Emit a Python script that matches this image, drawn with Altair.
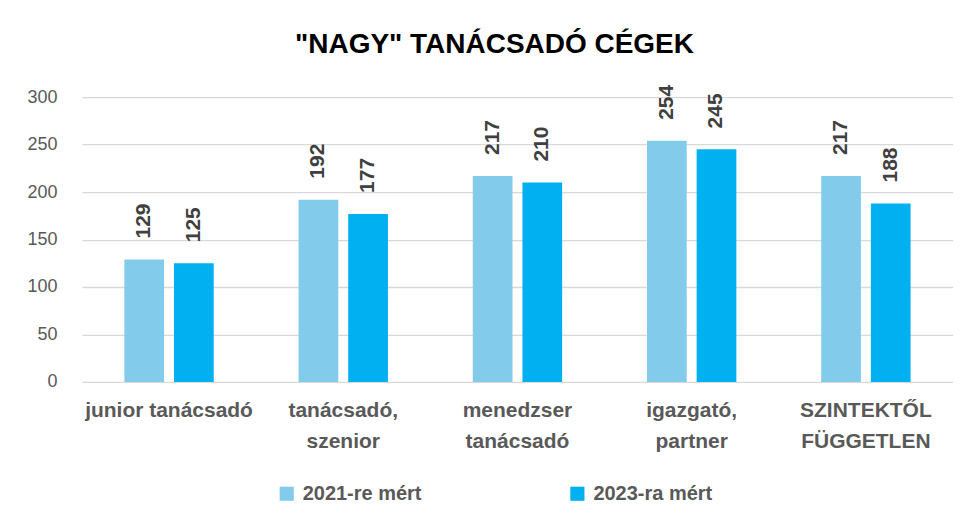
import altair as alt
import pandas as pd

categories = ["junior tanácsadó", "tanácsadó,\nszenior", "menedzser\ntanácsadó", "igazgató,\npartner", "SZINTEKTŐL\nFÜGGETLEN"]
series = ["2021-re mért", "2023-ra mért"]
values_2021 = [129, 192, 217, 254, 217]
values_2023 = [125, 177, 210, 245, 188]
colors = ["#83CBEB", "#00B0F0"]

rows = []
for c, a, b in zip(categories, values_2021, values_2023):
    rows.append({"cat": c, "series": series[0], "value": a})
    rows.append({"cat": c, "series": series[1], "value": b})
df = pd.DataFrame(rows)

FONT = "Liberation Sans"

x = alt.X("cat:N", sort=categories, title=None,
          scale=alt.Scale(paddingInner=0.487, paddingOuter=0.2435),
          axis=alt.Axis(labelAngle=0, labelExpr="split(datum.value, '\\n')",
                        labelFont=FONT, labelFontSize=21, labelFontWeight="bold",
                        labelColor="#595959", labelLineHeight=31, labelPadding=18,
                        domain=False, ticks=False, labelBaseline="top"))
xo = alt.XOffset("series:N", sort=series, scale=alt.Scale(paddingInner=0.2, paddingOuter=0))
y = alt.Y("value:Q", title=None,
          scale=alt.Scale(domain=[0, 300]),
          axis=alt.Axis(values=[0, 50, 100, 150, 200, 250, 300], labelFont=FONT,
                        labelFontSize=18, labelColor="#595959", labelPadding=25,
                        domain=False, ticks=False, gridColor="#D9D9D9", gridWidth=1.3))
color = alt.Color("series:N", sort=series,
                  scale=alt.Scale(domain=series, range=colors),
                  legend=alt.Legend(title=None, orient="none", direction="horizontal",
                                    legendX=195, legendY=387, symbolType="square",
                                    symbolSize=200, symbolStrokeWidth=0, labelFont=FONT,
                                    labelFontSize=20, labelFontWeight="bold",
                                    labelColor="#595959", columnPadding=146,
                                    labelOffset=6))

base = alt.Chart(df)
bars = base.mark_bar().encode(x=x, xOffset=xo, y=y, color=color)
labels = base.mark_text(angle=270, align="left", baseline="middle", dx=21,
                        font=FONT, fontSize=21, fontWeight="bold", color="#404040").encode(
    x=x, xOffset=xo, y=y, text="value:Q")

chart = alt.layer(bars, labels).properties(
    width=872, height=285,
    title=alt.TitleParams('"NAGY" TANÁCSADÓ CÉGEK', font=FONT, fontSize=28,
                          fontWeight="bold", color="#000000", anchor="middle",
                          offset=26, dx=-23),
    autosize=alt.AutoSizeParams(type="none"),
    padding={"left": 74, "top": 89, "right": 0, "bottom": 140},
).configure_view(stroke=None)

chart.save("out.html", embed_options={"renderer": "svg", "actions": False})
